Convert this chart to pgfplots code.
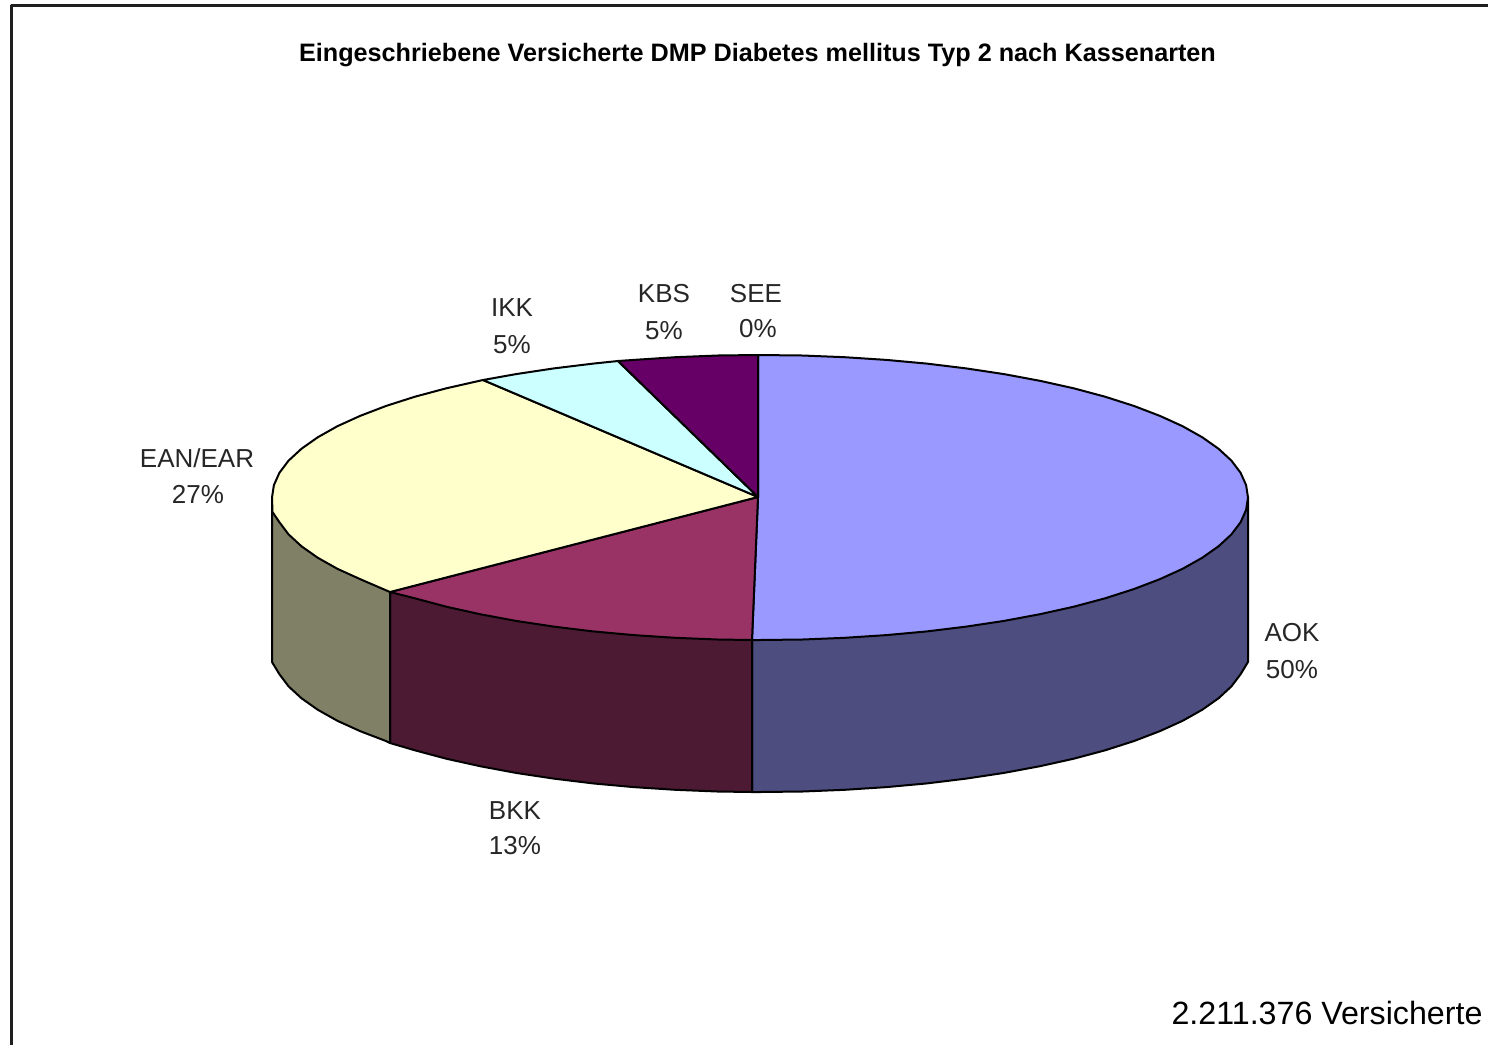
\documentclass[border=0pt]{standalone}
\usepackage{pgfplots}
\usepackage{fontspec}
\setmainfont{Liberation Sans}
\pgfplotsset{compat=1.18}
\definecolor{aokT}{HTML}{9999FF}
\definecolor{aokS}{HTML}{4D4D80}
\definecolor{bkkT}{HTML}{993366}
\definecolor{bkkS}{HTML}{4D1A33}
\definecolor{eanT}{HTML}{FFFFCC}
\definecolor{eanS}{HTML}{808066}
\definecolor{ikkT}{HTML}{CCFFFF}
\definecolor{kbsT}{HTML}{660066}
\begin{document}
\begin{tikzpicture}
\begin{axis}[
  name=a,
  width=1488pt, height=1045pt, scale only axis,
  xmin=0, xmax=1488, ymin=0, ymax=1045, y dir=reverse,
  hide axis, clip=false,
  every axis plot/.append style={line width=2pt, line join=round, draw=black}
]
% frame
\addplot[draw=black!88, line width=3pt, no markers] coordinates {(11,1045) (11,5) (1488,5)};
% walls
\addplot[fill=aokS] coordinates {(1248,497.5) (1248,661.9) (1240.6,674.2) (1231.4,686.4) (1218.6,698.2) (1202.3,709.7) (1182.6,720.8) (1159.7,731.2) (1133.8,741.1) (1105.1,750.3) (1073.7,758.7) (1039.9,766.2) (1004,772.9) (966.2,778.6) (926.9,783.4) (886.3,787.1) (844.7,789.8) (802.5,791.5) (760,792) (752,792) (752,640)} -- cycle;
\addplot[fill=bkkS] coordinates {(752,792) (717.5,791.5) (675.3,789.8) (633.7,787.1) (593.1,783.4) (553.8,778.6) (516,772.9) (480.1,766.2) (446.3,758.7) (414.9,750.3) (390,743) (390,592) (752,640)} -- cycle;
\addplot[fill=eanS] coordinates {(390,743) (386.2,741.1) (360.3,731.2) (337.4,720.8) (317.7,709.7) (301.4,698.2) (288.6,686.4) (279.4,674.2) (272,662) (272,500) (390,592)} -- cycle;
% top faces
\addplot[fill=aokT] coordinates {(758,497) (758,355) (802.5,355.5) (844.7,357.2) (886.3,359.9) (926.9,363.6) (966.2,368.4) (1004,374.1) (1039.9,380.8) (1073.7,388.3) (1105.1,396.7) (1133.8,405.9) (1159.7,415.8) (1182.6,426.2) (1202.3,437.3) (1218.6,448.8) (1231.4,460.6) (1240.6,472.8) (1246.1,485.1) (1248,497.5) (1246.1,509.9) (1240.6,522.2) (1231.4,534.4) (1218.6,546.2) (1202.3,557.7) (1182.6,568.8) (1159.7,579.2) (1133.8,589.1) (1105.1,598.3) (1073.7,606.7) (1039.9,614.2) (1004,620.9) (966.2,626.6) (926.9,631.4) (886.3,635.1) (844.7,637.8) (802.5,639.5) (760,640) (752,640)} -- cycle;
\addplot[fill=bkkT] coordinates {(758,497) (752,640) (717.5,639.5) (675.3,637.8) (633.7,635.1) (593.1,631.4) (553.8,626.6) (516,620.9) (480.1,614.2) (446.3,606.7) (414.9,598.3) (390,592)} -- cycle;
\addplot[fill=eanT] coordinates {(758,497) (390,592) (360.3,579.2) (337.4,568.8) (317.7,557.7) (301.4,546.2) (288.6,534.4) (279.4,522.2) (272.5,512) (272,497.5) (273.9,485.1) (279.4,472.8) (288.6,460.6) (301.4,448.8) (317.7,437.3) (337.4,426.2) (360.3,415.8) (386.2,405.9) (414.9,396.7) (446.3,388.3) (483,380)} -- cycle;
\addplot[fill=ikkT] coordinates {(758,497) (483,380) (516,374.1) (553.8,368.4) (593.1,363.6) (618,361)} -- cycle;
\addplot[fill=kbsT] coordinates {(758,497) (618,361) (633.7,359.9) (675.3,357.2) (717.5,355.5) (758,355)} -- cycle;
% text
\def\lab#1#2#3{\node[anchor=center,font=\fontsize{26}{26}\selectfont,text=black!85] at (axis cs:#1,#2) {#3};}
\node[anchor=center,font=\fontsize{25.2}{27}\bfseries\selectfont] at (axis cs:757.5,55) {Eingeschriebene Versicherte DMP Diabetes mellitus Typ 2 nach Kassenarten};
\lab{1292}{633}{AOK}
\lab{1292}{670}{50\%}
\lab{515}{811}{BKK}
\lab{515}{846}{13\%}
\lab{197}{458}{EAN/EAR}
\lab{198}{494}{27\%}
\lab{512}{308}{IKK}
\lab{512}{345}{5\%}
\lab{664}{294}{KBS}
\lab{664}{331}{5\%}
\lab{756}{294}{SEE}
\lab{758}{329}{0\%}
\node[anchor=center,font=\fontsize{32.2}{33}\selectfont] at (axis cs:1327,1013) {2.211.376 Versicherte};
\end{axis}
\pgfresetboundingbox
\path[use as bounding box] (a.south west) rectangle (a.north east);
\end{tikzpicture}
\end{document}
